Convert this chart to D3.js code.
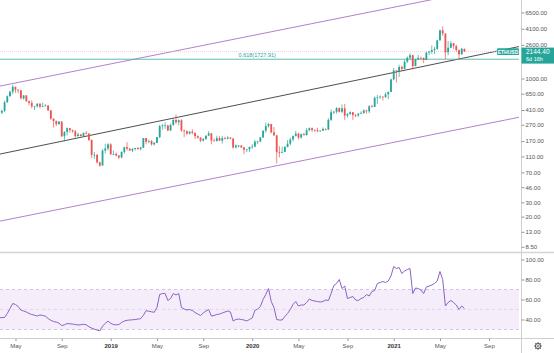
<!DOCTYPE html>
<html>
<head>
<meta charset="utf-8">
<script src="https://cdn.jsdelivr.net/npm/d3@7"></script>
<style>
  body { margin: 0; background: #fff; }
  svg { display: block; font-family: "Liberation Sans", Arial, sans-serif; }
</style>
</head>
<body>
<div id="chart"></div>
<script>
// weekly ETHUSD bars, first bar starts on this Monday
const firstWeek = "2018-03-19";
const firstOpen = 535;
const closes = [
  525, 380, 400, 510, 605, 688, 790, 730, 715, 570, 620, 525, 500, 455, 455, 490, 450, 460, 465, 405,
  320, 300, 275, 295, 195, 220, 245, 232, 225, 195, 205, 196, 215, 210, 175, 115, 115, 93, 85, 130, 138, 155,
  117, 118, 113, 107, 125, 143, 137, 130, 136, 140, 136, 141, 185, 167, 170, 155, 162, 190, 260, 265,
  265, 230, 268, 310, 290, 307, 230, 225, 210, 222, 215, 195, 187, 172, 180, 198, 212, 173, 170, 185,
  172, 185, 182, 188, 183, 142, 150, 150, 142, 133, 135, 144,
  146, 167, 168, 189, 228, 260, 275, 218, 200, 124, 122, 125, 144, 158, 178, 197, 210, 188, 207, 202,
  231, 245, 233, 230, 225, 228, 240, 235, 310, 385, 390, 433, 390, 430, 350, 365, 385, 355, 352, 370,
  378, 405, 395, 455, 448, 580, 590, 600, 590, 640, 685, 975,
  1255, 1230, 1390, 1315, 1610, 1800, 1935, 1420, 1720, 1790, 1785, 1690, 2080, 2140, 2240, 2310,
  2945, 3920, 3580, 2100, 2390, 2710, 2510, 2240, 1980, 2320, 2144.4
];
const highs = [
  580, 535, 415, 535, 620, 710, 835, 795, 740, 720, 625, 625, 535, 540, 460, 495, 495, 505, 485, 470,
  410, 325, 305, 300, 300, 225, 250, 245, 235, 232, 215, 208, 215, 225, 213, 178, 125, 118, 95, 135, 157, 160,
  160, 130, 123, 114, 127, 145, 165, 140, 139, 140, 143, 145, 185, 185, 178, 175, 165, 190, 270, 275,
  290, 270, 280, 315, 362, 315, 315, 235, 230, 225, 238, 216, 200, 190, 185, 200, 225, 212, 183, 198,
  195, 197, 192, 195, 190, 183, 155, 152, 150, 145, 135, 145,
  155, 175, 172, 190, 230, 287, 285, 277, 253, 202, 147, 145, 148, 175, 188, 198, 227, 216, 210, 215,
  245, 250, 250, 238, 248, 232, 250, 243, 325, 415, 400, 445, 440, 480, 488, 375, 395, 385, 365, 375,
  395, 420, 412, 470, 475, 600, 625, 620, 600, 675, 690, 1000,
  1350, 1270, 1475, 1440, 1700, 1870, 2040, 1960, 1750, 1950, 1870, 1825, 2145, 2200, 2550, 2450,
  2980, 3990, 4380, 3580, 2900, 2890, 2740, 2610, 2280, 2380, 2330
];
const lows = [
  505, 365, 365, 385, 500, 600, 640, 665, 660, 555, 550, 520, 470, 430, 410, 440, 430, 445, 455, 400,
  310, 250, 260, 270, 190, 168, 200, 215, 215, 188, 195, 195, 193, 205, 170, 105, 103, 90, 82, 85, 120, 130,
  115, 115, 110, 102, 104, 118, 130, 130, 124, 130, 133, 130, 140, 155, 160, 150, 150, 160, 185, 235,
  240, 225, 225, 262, 275, 265, 220, 190, 202, 205, 205, 180, 182, 165, 168, 176, 198, 155, 168, 168,
  170, 158, 178, 178, 178, 137, 138, 142, 140, 117, 124, 125,
  137, 142, 155, 165, 185, 215, 250, 210, 197, 90, 107, 122, 124, 142, 150, 168, 193, 178, 182, 198,
  198, 225, 220, 222, 218, 222, 227, 230, 234, 300, 365, 370, 380, 375, 310, 330, 360, 310, 335, 335,
  364, 365, 370, 375, 440, 446, 485, 560, 535, 580, 560, 680,
  950, 890, 1050, 1230, 1300, 1560, 1700, 1290, 1420, 1690, 1730, 1550, 1680, 1935, 2000, 2000,
  2260, 2930, 3350, 1730, 1930, 2360, 2300, 2140, 1700, 1980, 2120
];
// weekly RSI(14), one value per bar
const rsiValues = [
  42, 41.8, 41.9, 42, 46, 51, 56, 55, 53, 49.5, 48.5, 47.5, 46, 45, 44.3, 43.5, 44.5, 44, 43.3, 41,
  39.2, 38, 37.4, 36.3, 33.9, 34.7, 36, 35.7, 35.4, 35, 34.5, 34.8, 35.2, 34.7, 32.8, 31.4, 30.3, 29.4, 28.6, 33.3, 36.2, 38.3,
  36.2, 34.9, 34.7, 35, 37, 38.5, 39.2, 39.5, 39.7, 40, 40.4, 40.8, 44.2, 48.8, 48.3, 47.7, 47.2, 52, 65, 66,
  66, 59, 61, 66, 64.5, 66, 52, 50.5, 49.5, 50, 49, 47, 45.5, 44, 46.5, 48.5, 50, 43.5, 44, 45,
  45.5, 46.5, 47.5, 48.5, 47.5, 38.5, 40, 40.5, 40, 39.5, 38.5, 40,
  41.5, 49, 50.5, 53, 60, 65, 71, 58, 52, 40, 39.5, 39.5, 43, 46, 50, 55, 58, 53.5, 54.5, 54.5,
  57, 60.5, 59, 58.5, 58, 57.5, 58, 59.5, 59, 66, 74, 76, 80, 71, 73.5, 61, 62, 63, 59.5, 59,
  61, 62, 65, 63.5, 68, 69, 76, 77, 78, 77, 78.5, 83.5,
  93, 91, 92, 86, 88.5, 90, 91, 66, 71.5, 71, 69.5, 66, 72.5, 73.5, 74.5, 76,
  78.5, 88, 80, 53.5, 57, 59, 57, 54.5, 50, 53.5, 51
];

// 1600 sits under the last-price label, so it is not shown
const priceTicks = [6500, 4100, 2600, 1000, 650, 410, 270, 170, 110, 70, 46, 30, 20, 13, 8.5];
const rsiTicks = [100, 80, 60, 40];
const timeTickDates = ["2018-05-07", "2018-09-03", "2019-01-07", "2019-05-06", "2019-09-02", "2020-01-06",
  "2020-05-04", "2020-09-07", "2021-01-04", "2021-05-03", "2021-09-06"];
const timeTickLabels = ["May", "Sep", "2019", "May", "Sep", "2020", "May", "Sep", "2021", "May", "Sep"];

// drawn channel: two anchor points (week, price) per line
const upperChannel = [["2018-04-02", 816], ["2021-01-04", 7530]];
const midChannel = [["2018-04-02", 119], ["2021-01-04", 1186]];
const lowerChannel = [["2018-04-02", 17.8], ["2021-01-04", 164]];
const fibLevel = 1727.91;
const fibText = "0.618(1727.91)";
const fibTextDate = "2019-12-02";
const lastPrice = 2144.40;
const symbol = "ETHUSD";
const countdown = "6d 16h";

let width = 554;
let height = 353;
let plotW = 519;
let axisX = 521.5;
let mainTop = 0, mainBottom = 252;
let rsiTop = 253, rsiBottom = 338;

let green = "#26a69a";
let red = "#ef5350";
let purple = "#a774c9";
let rsiColor = "#8a63c4";
let textColor = "#555";

const start = new Date(firstWeek);
const bars = closes.map((c, i) => ({
  date: d3.utcDay.offset(start, 7 * i),
  open: i == 0 ? firstOpen : closes[i - 1],
  high: highs[i],
  low: lows[i],
  close: c,
  rsi: rsiValues[i]
}));

// time scale fitted to the year labels, then stretched to the plot width
const x = d3.scaleUtc()
  .domain([new Date("2019-01-07"), new Date("2021-01-04")])
  .range([110.7, 393.7]);
x.domain([x.invert(0), x.invert(plotW)]).range([0, plotW]);

const y = d3.scaleLog().domain([7.34, 9250]).range([mainBottom, mainTop]);
const yr = d3.scaleLinear().domain([0, 100]).range([359.5, 259.5]);

const svg = d3.select("#chart").append("svg")
  .attr("width", width)
  .attr("height", height)
  .attr("viewBox", [0, 0, width, height]);

svg.append("rect").attr("width", width).attr("height", height).attr("fill", "#fff");

const defs = svg.append("defs");
defs.append("clipPath").attr("id", "clipMain")
  .append("rect").attr("x", 0).attr("y", mainTop).attr("width", plotW).attr("height", mainBottom - mainTop);
defs.append("clipPath").attr("id", "clipRsi")
  .append("rect").attr("x", 0).attr("y", rsiTop).attr("width", plotW).attr("height", rsiBottom - rsiTop);

const main = svg.append("g").attr("clip-path", "url(#clipMain)");

// channel lines, extended across the whole pane
function channel(pts, color, w) {
  const x1 = x(new Date(pts[0][0])), y1 = y(pts[0][1]);
  const x2 = x(new Date(pts[1][0])), y2 = y(pts[1][1]);
  const k = (y2 - y1) / (x2 - x1);
  main.append("line")
    .attr("x1", 0).attr("y1", y1 + k * (0 - x1))
    .attr("x2", plotW).attr("y2", y1 + k * (plotW - x1))
    .attr("stroke", color)
    .attr("stroke-width", w);
}
channel(upperChannel, purple, 0.9);
channel(lowerChannel, purple, 0.9);
channel(midChannel, "#3a3a3a", 0.9);

// fib level + current price line
main.append("line")
  .attr("x1", 0).attr("x2", plotW)
  .attr("y1", y(fibLevel)).attr("y2", y(fibLevel))
  .attr("stroke", "#4db6ac").attr("stroke-width", 0.9);
main.append("text")
  .attr("x", x(new Date(fibTextDate))).attr("y", y(fibLevel) - 2)
  .attr("font-size", 5.5)
  .attr("fill", "#26a69a")
  .text(fibText);
main.append("line")
  .attr("x1", 0).attr("x2", plotW)
  .attr("y1", y(lastPrice)).attr("y2", y(lastPrice))
  .attr("stroke", "#ecc4d2").attr("stroke-width", 0.8)
  .attr("stroke-dasharray", "1,1");

// candles
const candle = main.append("g").selectAll("g").data(bars).join("g")
  .attr("stroke", d => d.close >= d.open ? green : red)
  .attr("fill", d => d.close >= d.open ? green : red);
candle.append("line")
  .attr("x1", d => x(d.date)).attr("x2", d => x(d.date))
  .attr("y1", d => y(d.high)).attr("y2", d => y(d.low))
  .attr("stroke-width", 0.7);
candle.append("rect")
  .attr("stroke", "none")
  .attr("x", d => x(d.date) - 0.9)
  .attr("width", 1.8)
  .attr("y", d => y(Math.max(d.open, d.close)))
  .attr("height", d => Math.max(0.7, Math.abs(y(d.open) - y(d.close))));

// RSI pane
const rsiG = svg.append("g").attr("clip-path", "url(#clipRsi)");
rsiG.append("rect")
  .attr("x", 0).attr("width", plotW)
  .attr("y", yr(70)).attr("height", yr(30) - yr(70))
  .attr("fill", "#9b59d0").attr("fill-opacity", 0.1);
[70, 50, 30].forEach(v => {
  rsiG.append("line")
    .attr("x1", 0).attr("x2", plotW)
    .attr("y1", yr(v)).attr("y2", yr(v))
    .attr("stroke", v == 50 ? "#dccfee" : "#c9b6e4")
    .attr("stroke-width", 0.8)
    .attr("stroke-dasharray", "3,3");
});
const rsiLine = d3.line()
  .x(d => x(d.date))
  .y(d => yr(d.rsi));
rsiG.append("path")
  .attr("d", rsiLine(bars))
  .attr("fill", "none")
  .attr("stroke", rsiColor)
  .attr("stroke-width", 1)
  .attr("stroke-linejoin", "round");

// frame lines
svg.append("line")
  .attr("x1", 0).attr("x2", width).attr("y1", 252.5).attr("y2", 252.5)
  .attr("stroke", "#d4d4d4").attr("stroke-width", 1.5);
svg.append("line")
  .attr("x1", 0).attr("x2", width).attr("y1", 338.5).attr("y2", 338.5)
  .attr("stroke", "#cfcfcf").attr("stroke-width", 1);
svg.append("line")
  .attr("x1", axisX).attr("x2", axisX).attr("y1", 0).attr("y2", height)
  .attr("stroke", "#cfcfcf").attr("stroke-width", 1);

// price axis
const yAxis = d3.axisRight(y).tickValues(priceTicks).tickSize(3).tickFormat(d3.format(".2f"));
svg.append("g")
  .attr("transform", `translate(${axisX},0)`)
  .call(yAxis)
  .call(g => g.select(".domain").remove())
  .call(g => g.selectAll(".tick line").attr("stroke", "#999"))
  .call(g => g.selectAll(".tick text").attr("x", 4).attr("font-size", 6).attr("fill", textColor)
    .attr("font-family", "Liberation Sans, Arial, sans-serif"));

const rAxis = d3.axisRight(yr).tickValues(rsiTicks).tickSize(3).tickFormat(d3.format(".2f"));
svg.append("g")
  .attr("transform", `translate(${axisX},0)`)
  .call(rAxis)
  .call(g => g.select(".domain").remove())
  .call(g => g.selectAll(".tick line").attr("stroke", "#999"))
  .call(g => g.selectAll(".tick text").attr("x", 4).attr("font-size", 6).attr("fill", textColor)
    .attr("font-family", "Liberation Sans, Arial, sans-serif"));

// time axis
const xAxis = d3.axisBottom(x)
  .tickValues(timeTickDates.map(d => new Date(d)))
  .tickSize(2.5)
  .tickFormat((d, i) => timeTickLabels[i]);
svg.append("g")
  .attr("transform", "translate(0,338.5)")
  .call(xAxis)
  .call(g => g.select(".domain").remove())
  .call(g => g.selectAll(".tick line").attr("stroke", "#999"))
  .call(g => g.selectAll(".tick text").attr("y", 5).attr("font-size", 6)
    .attr("fill", (d, i) => /\d/.test(timeTickLabels[i]) ? "#333" : textColor)
    .attr("font-weight", (d, i) => /\d/.test(timeTickLabels[i]) ? "bold" : "normal")
    .attr("font-family", "Liberation Sans, Arial, sans-serif"));

// last price labels
const yl = y(lastPrice);
svg.append("rect")
  .attr("x", 497).attr("y", yl - 3.3).attr("width", 22).attr("height", 6.6)
  .attr("rx", 1).attr("fill", green);
svg.append("text")
  .attr("x", 508).attr("y", yl + 2)
  .attr("text-anchor", "middle").attr("font-size", 5).attr("font-weight", "bold")
  .attr("fill", "#fff").text(symbol);
svg.append("rect")
  .attr("x", axisX).attr("y", yl - 4).attr("width", width - axisX).attr("height", 16)
  .attr("fill", green);
svg.append("text")
  .attr("x", 526).attr("y", yl + 2.3)
  .attr("font-size", 6.5).attr("fill", "#fff").text(lastPrice.toFixed(2));
svg.append("text")
  .attr("x", 526).attr("y", yl + 9.6)
  .attr("font-size", 5.5).attr("fill", "#fff").text(countdown);

// settings gear in the corner
const gear = svg.append("g").attr("transform", "translate(538,346)")
  .attr("stroke", "#555").attr("fill", "none");
gear.append("circle").attr("r", 2.6).attr("stroke-width", 1);
gear.append("circle").attr("r", 1).attr("stroke-width", 0.7);
d3.range(8).forEach(i => {
  const a = i * Math.PI / 4;
  gear.append("line")
    .attr("x1", Math.cos(a) * 2.6).attr("y1", Math.sin(a) * 2.6)
    .attr("x2", Math.cos(a) * 3.8).attr("y2", Math.sin(a) * 3.8)
    .attr("stroke-width", 1.1);
});
</script>
</body>
</html>
